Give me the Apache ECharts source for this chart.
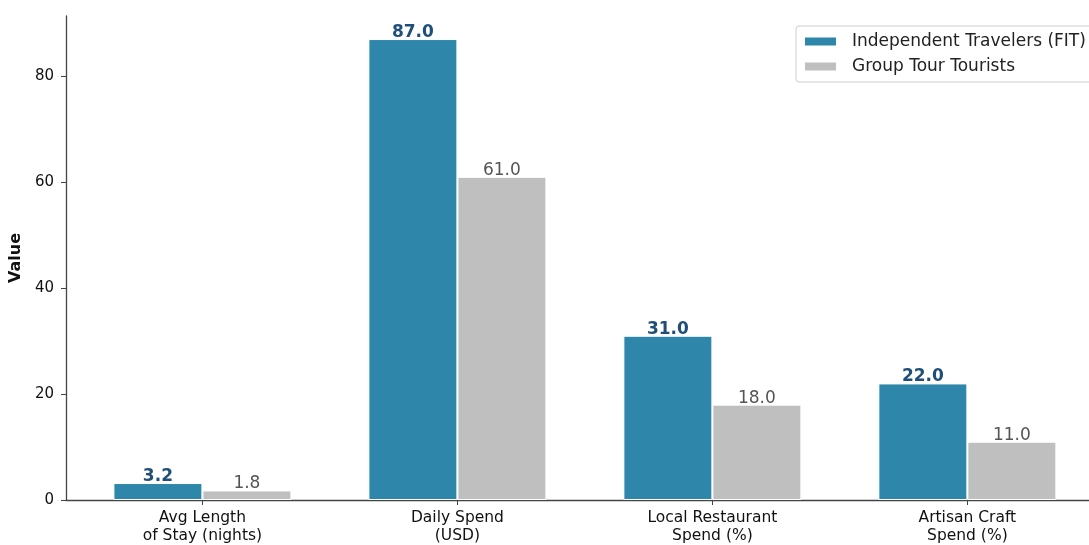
<!DOCTYPE html>
<html>
<head>
    <meta charset="utf-8">
    <title>FIT vs Group Tour</title>
    <script src="https://cdn.jsdelivr.net/npm/echarts@6/dist/echarts.min.js"></script>
    <style>
        html, body { margin: 0; padding: 0; background: #ffffff; }
        #chart { width: 1089px; height: 545px; }
    </style>
</head>
<body>
<div id="chart"></div>
<script>
    // 数据
    var categories = ['Avg Length\nof Stay (nights)', 'Daily Spend\n(USD)', 'Local Restaurant\nSpend (%)', 'Artisan Craft\nSpend (%)'];
    var fitValues = [3.2, 87.0, 31.0, 22.0];
    var groupValues = [1.8, 61.0, 18.0, 11.0];
    var seriesNames = ['Independent Travelers (FIT)', 'Group Tour Tourists'];
    var yTicks = [0, 20, 40, 60, 80];
    var xTicks = [0, 1, 2, 3];

    function toPoints(arr) {
        return arr.map(function (v, i) { return [i, v]; });
    }

    var chart = echarts.init(document.getElementById('chart'));
    var font = 'DejaVu Sans';

    var option = {
        animation: false,
        textStyle: { fontFamily: font },
        grid: { left: 66, right: 0, top: 16, bottom: 45, outerBoundsMode: 'none' },
        legend: {
            orient: 'vertical',
            left: 796,
            top: 26,
            icon: 'rect',
            itemWidth: 33,
            itemHeight: 10,
            itemGap: 8,
            padding: [7, 8, 7, 7],
            borderColor: '#cccccc',
            borderWidth: 1,
            borderRadius: 3,
            textStyle: { fontSize: 17, color: '#222', fontFamily: font, padding: [0, 0, 0, 10] },
            data: seriesNames
        },
        xAxis: {
            type: 'value',
            min: -0.535,
            max: 3.477,
            splitLine: { show: false },
            axisLine: { show: true, onZero: false, lineStyle: { color: '#444', width: 1.3 } },
            axisTick: { show: true, length: 5, customValues: xTicks, lineStyle: { color: '#444' } },
            axisLabel: {
                fontSize: 15.5,
                color: '#111',
                lineHeight: 18,
                margin: 9,
                customValues: xTicks,
                formatter: function (v) {
                    return categories[Math.round(v)] || '';
                }
            }
        },
        yAxis: {
            type: 'value',
            min: 0,
            max: 91.35,
            name: 'Value',
            nameLocation: 'middle',
            nameGap: 40,
            nameTextStyle: { fontSize: 16, fontWeight: 'bold', color: '#111' },
            splitLine: { show: false },
            axisLine: { show: true, onZero: false, lineStyle: { color: '#444', width: 1.3 } },
            axisTick: { show: true, length: 5, customValues: yTicks, lineStyle: { color: '#444' } },
            axisLabel: { fontSize: 15, color: '#111', margin: 12, customValues: yTicks }
        },
        series: [
            {
                name: seriesNames[0],
                type: 'bar',
                barWidth: 89,
                barGap: '0%',
                data: toPoints(fitValues),
                itemStyle: { color: '#2e86ab', borderColor: '#ffffff', borderWidth: 1 },
                label: {
                    show: true,
                    position: 'top',
                    distance: -2,
                    fontSize: 17,
                    fontWeight: 'bold',
                    color: '#1f4e79',
                    formatter: function (p) { return p.value[1].toFixed(1); }
                }
            },
            {
                name: seriesNames[1],
                type: 'bar',
                barWidth: 89,
                barGap: '0%',
                data: toPoints(groupValues),
                itemStyle: { color: '#bfbfbf', borderColor: '#ffffff', borderWidth: 1 },
                label: {
                    show: true,
                    position: 'top',
                    distance: -2,
                    fontSize: 17,
                    color: '#555555',
                    formatter: function (p) { return p.value[1].toFixed(1); }
                }
            }
        ]
    };
    chart.setOption(option);
</script>
</body>
</html>
